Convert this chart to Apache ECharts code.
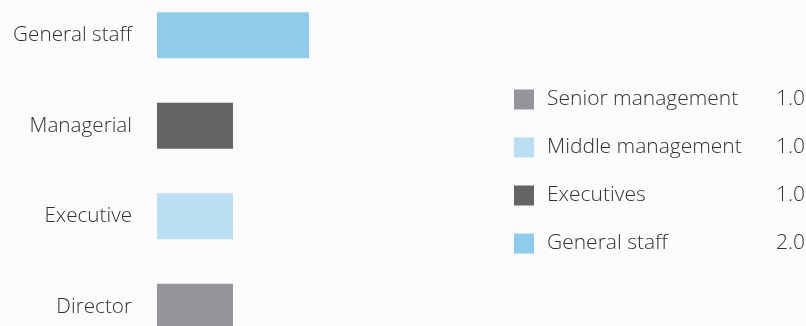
<!DOCTYPE html>
<html>
<head>
<meta charset="utf-8">
<script src="https://cdn.jsdelivr.net/npm/echarts@6/dist/echarts.min.js"></script>
<style>
html,body{margin:0;padding:0;background:#fbfbfd;}
#chart{width:806px;height:326px;}
</style>
</head>
<body>
<div id="chart"></div>
<script>
// categories from bottom to top
var categories = ['Director', 'Executive', 'Managerial', 'General staff'];
var legendNames = ['Senior management', 'Middle management', 'Executives', 'General staff'];
var values = [1, 1, 1, 2];
var colors = ['#949598', '#bcdef3', '#636466', '#8fcbea'];

var myChart = echarts.init(document.getElementById('chart'));

var series = [];
for (var i = 0; i < categories.length; i++) {
	var d = [];
	for (var j = 0; j < categories.length; j++) {
		d.push(j == i ? values[i] : '-');
	}
	series.push({
		name: legendNames[i],
		type: 'bar',
		stack: 'all',
		barWidth: 46,
		data: d,
		itemStyle: { color: colors[i] },
		emphasis: { disabled: true }
	});
}

var option = {
	backgroundColor: '#fbfbfd',
	animation: false,
	grid: { left: 157, width: 304, top: -10, bottom: -26, outerBoundsMode: 'none', containLabel: false },
	xAxis: {
		type: 'value',
		min: 0,
		max: 4,
		show: false
	},
	yAxis: {
		type: 'category',
		data: categories,
		axisLine: { show: false },
		axisTick: { show: false },
		splitLine: { show: false },
		axisLabel: {
			margin: 25,
			fontFamily: 'Open Sans',
			fontWeight: 300,
			fontSize: 20.7,
			color: '#333'
		}
	},
	legend: {
		orient: 'vertical',
		left: 514,
		top: 89,
		padding: 0,
		itemWidth: 20,
		itemHeight: 20,
		itemGap: 27,
		icon: 'rect',
		data: legendNames,
		formatter: function (name) {
			var idx = legendNames.indexOf(name);
			return '{n|' + name + '}{v|' + values[idx].toFixed(1) + '}';
		},
		textStyle: {
			fontFamily: 'Open Sans',
			fontWeight: 300,
			fontSize: 21,
			color: '#333',
			rich: {
				n: { width: 222, padding: [0, 0, 0, 8], fontFamily: 'Open Sans', fontWeight: 300, fontSize: 21, color: '#333', lineHeight: 20 },
				v: { width: 36, align: 'right', fontFamily: 'Open Sans', fontWeight: 300, fontSize: 21, color: '#333', lineHeight: 20 }
			}
		}
	},
	series: series
};
myChart.setOption(option);
</script>
</body>
</html>
